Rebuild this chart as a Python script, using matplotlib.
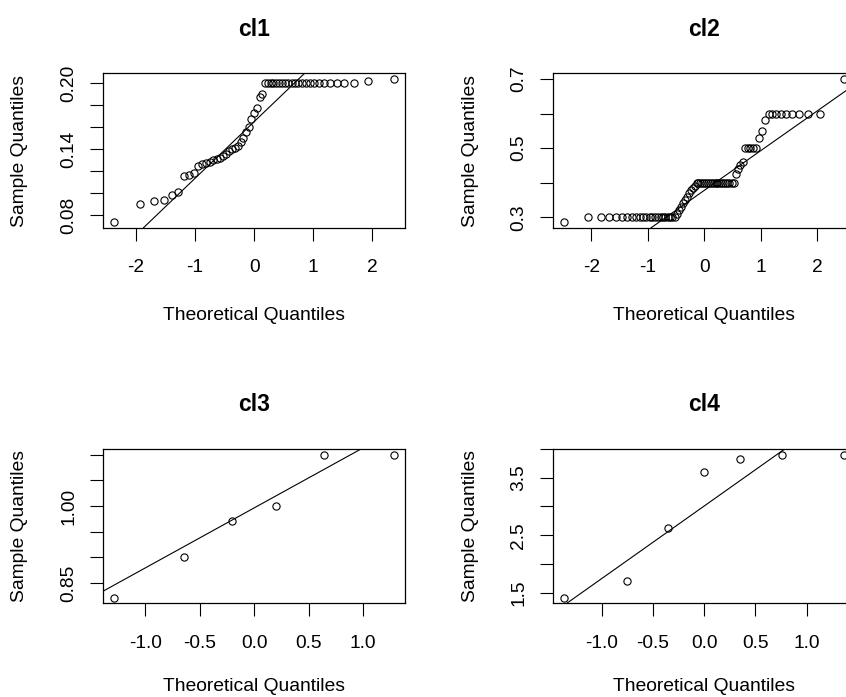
import numpy as np
import matplotlib.pyplot as plt
from statistics import NormalDist

plt.rcParams['font.family'] = ['Liberation Sans', 'DejaVu Sans']
plt.rcParams['axes.unicode_minus'] = False

# sample values per cluster (sorted)
cl1 = ([0.074, 0.090, 0.093, 0.094, 0.0985, 0.1015, 0.116, 0.117, 0.119,
        0.125, 0.127, 0.128, 0.129, 0.130, 0.131, 0.132, 0.134, 0.136,
        0.139, 0.140, 0.141, 0.143, 0.147,
        0.150, 0.156, 0.160, 0.1675, 0.173, 0.178, 0.188, 0.190]
       + [0.2] * 22 + [0.2025, 0.204])
cl2 = ([0.286] + [0.3] * 22
       + [0.31, 0.32, 0.33, 0.34, 0.35, 0.36, 0.37, 0.38, 0.385, 0.39]
       + [0.4] * 20
       + [0.426, 0.44, 0.45, 0.46]
       + [0.5] * 5
       + [0.53, 0.55, 0.58]
       + [0.6] * 9 + [0.70])
cl3 = [0.822, 0.90, 0.97, 1.00, 1.10, 1.10]
cl4 = [1.42, 1.70, 2.62, 3.60, 3.82, 3.89, 3.89]

samples = [cl1, cl2, cl3, cl4]
titles = ['cl1', 'cl2', 'cl3', 'cl4']

xticks = [[-2, -1, 0, 1, 2], [-2, -1, 0, 1, 2],
          [-1.0, -0.5, 0.0, 0.5, 1.0], [-1.0, -0.5, 0.0, 0.5, 1.0]]
xtick_labels = [['-2', '-1', '0', '1', '2'], ['-2', '-1', '0', '1', '2'],
                ['-1.0', '-0.5', '0.0', '0.5', '1.0'],
                ['-1.0', '-0.5', '0.0', '0.5', '1.0']]
yticks = [[0.08, 0.10, 0.12, 0.14, 0.16, 0.18, 0.20],
          [0.3, 0.4, 0.5, 0.6, 0.7],
          [0.85, 0.90, 0.95, 1.00, 1.05, 1.10],
          [1.5, 2.0, 2.5, 3.0, 3.5, 4.0]]
ytick_labels = [['0.08', '', '', '0.14', '', '', '0.20'],
                ['0.3', '', '0.5', '', '0.7'],
                ['0.85', '', '', '1.00', '', ''],
                ['1.5', '', '2.5', '', '3.5', '']]

W, H = 846, 697
# panel frames in pixels: left, top, x-label offset below frame
frames = [(103.3, 73.3, 87.5), (553.3, 73.3, 87.5),
          (103.3, 448.8, 83.0), (553.3, 448.8, 83.0)]
pw, ph = 301.7, 154.5

nd = NormalDist()


def ppoints(n):
    a = 3 / 8 if n <= 10 else 0.5
    return (np.arange(1, n + 1) - a) / (n + 1 - 2 * a)


def qqplot(ax, y):
    y = np.asarray(y, dtype=float)
    order = np.argsort(y, kind='stable')
    x = np.empty(len(y))
    x[order] = [nd.inv_cdf(p) for p in ppoints(len(y))]
    ax.plot(x, y, ls='none', marker='o', ms=5.2, mfc='none', mec='black',
            mew=0.8)
    # reference line through the quartiles
    q1, q3 = np.quantile(y, [0.25, 0.75])
    z1, z3 = nd.inv_cdf(0.25), nd.inv_cdf(0.75)
    ax.axline((z1, q1), slope=(q3 - q1) / (z3 - z1), color='black', lw=0.8)


fig = plt.figure(figsize=(W / 100, H / 100), dpi=100)

for k in range(4):
    left, top, xlab_off = frames[k]
    ax = fig.add_axes([left / W, 1 - (top + ph) / H, pw / W, ph / H])
    qqplot(ax, samples[k])
    ax.margins(0.04)

    ax.set_xticks(xticks[k])
    ax.set_xticklabels(xtick_labels[k])
    ax.set_yticks(yticks[k])
    ax.set_yticklabels(ytick_labels[k])
    ax.tick_params(length=9.4, width=0.8, labelsize=13.8, color='black')
    ax.tick_params(axis='x', pad=13.2)
    ax.tick_params(axis='y', pad=9.5, labelrotation=90)
    for lab in ax.get_yticklabels():
        lab.set_va('center')
    for sp in ax.spines.values():
        sp.set_linewidth(0.9)

    ax.set_title(titles[k], fontsize=16.5, fontweight='bold', y=1.285, pad=0,
                 va='center')
    ax.set_xlabel('Theoretical Quantiles', fontsize=13.9)
    ax.xaxis.set_label_coords(0.5, -xlab_off / ph)
    ax.xaxis.label.set_va('center')
    ax.set_ylabel('Sample Quantiles', fontsize=13.9)
    ax.yaxis.set_label_coords(-83.3 / pw, 0.5)
    ax.yaxis.label.set_va('center')

fig.savefig('out.png', dpi=100)
